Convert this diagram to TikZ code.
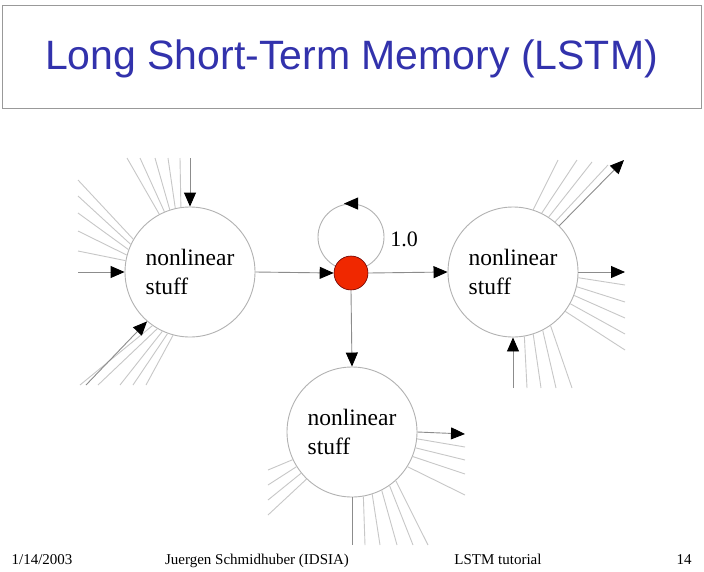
\documentclass[tikz,border=0pt]{standalone}
\usepackage{fontspec}
\setmainfont{Liberation Serif}
\newfontfamily\titlefont{Liberation Sans}
\usetikzlibrary{arrows.meta}
\definecolor{titleblue}{HTML}{3232AC}
\definecolor{nodered}{HTML}{F02800}
\tikzset{
  bignode/.style={circle, draw=black!30, line width=0.9pt, minimum size=130pt, inner sep=0pt,
    align=left, font=\fontsize{23.5}{29}\selectfont},
  conn/.style={draw=black!45, line width=0.9pt},
  tipped/.style={conn, -{Triangle[length=14pt,width=12pt,color=black]}},
  fan/.style={draw=black!22, line width=0.9pt},
  foot/.style={font=\fontsize{15}{17}\selectfont, anchor=base}
}
\begin{document}
\begin{tikzpicture}[x=1pt,y=-1pt]
\useasboundingbox (0,0) rectangle (704,571);
\fill[white] (0,0) rectangle (704,571);
% title
\node[draw=black!40, line width=1pt, minimum width=699pt, minimum height=103pt, inner sep=0pt] (titlebox) at (351.5,56.5) {};
\node[font=\titlefont\fontsize{41}{45}\selectfont, text=titleblue] (title) at (351.5,59) {Long Short-Term Memory (LSTM)};

% nodes
\node[bignode] (L) at (190,272) {nonlinear\\stuff};
\node[bignode] (R) at (513,272) {nonlinear\\stuff};
\node[bignode] (B) at (352,432) {nonlinear\\stuff};
\node[circle, draw=black!30, line width=0.9pt, minimum size=66pt, inner sep=0pt] (K) at (351,237) {};
\node[circle, fill=nodered, draw=black!60!red, line width=0.6pt, minimum size=34pt, inner sep=0pt] (C) at (351,273) {};
\node[font=\fontsize{22}{26}\selectfont] (w) at (404,239) {1.0};

% self loop arrowhead
\draw[tipped] ([xshift=6pt]K.north) -- ([xshift=-7pt]K.north);

% main connectors
\draw[tipped] (L.east) -- (C.west);
\draw[tipped] (C.east) -- (R.west);
\draw[tipped] (C.south) -- (B.north);

% left node extra inputs
\coordinate (Lt) at (190,158);
\coordinate (Ll) at (78,272);
\coordinate (Lb) at (86,385);
\foreach \x/\a [count=\i] in {127/118,140/113,155/108,168/103,180/98}{
  \coordinate (ltf\i) at (\x,158);
  \draw[fan] (ltf\i) -- (L.\a);
}
\foreach \y/\a [count=\i] in {180/150,196/155,213/160,231/165,251/170}{
  \coordinate (llf\i) at (78,\y);
  \draw[fan] (llf\i) -- (L.\a);
}
\foreach \x/\a [count=\i] in {80/235,98/240,120/245,133/250,146/255}{
  \coordinate (lbf\i) at (\x,385);
  \draw[fan] (lbf\i) -- (L.\a);
}
\draw[tipped] (Lt) -- (L.north);
\draw[tipped] (Ll) -- (L.west);
\draw[tipped] (Lb) -- (L.229);

% right node
\coordinate (Rt) at (624,160);
\coordinate (Rr) at (625,272);
\coordinate (Rb) at (513,388);
\foreach \x/\y/\a [count=\i] in {558/160/72,577/160/64,592/162/57,608/165/50}{
  \coordinate (rtf\i) at (\x,\y);
  \draw[fan] (R.\a) -- (rtf\i);
}
\foreach \y/\a [count=\i] in {285/-5,302/-13,318/-21,334/-29,350/-37}{
  \coordinate (rrf\i) at (625,\y);
  \draw[fan] (R.\a) -- (rrf\i);
}
\foreach \x/\a [count=\i] in {527/-80,541/-72,556/-63,572/-55}{
  \coordinate (rbf\i) at (\x,388);
  \draw[fan] (R.\a) -- (rbf\i);
}
\draw[tipped] (R.45) -- (Rt);
\draw[tipped] (R.east) -- (Rr);
\draw[tipped] (Rb) -- (R.south);

% bottom node
\coordinate (Br) at (465,434);
\coordinate (Bb) at (352,545);
\foreach \y/\a [count=\i] in {447/-6,460/-14,474/-22,495/-32}{
  \coordinate (brf\i) at (465,\y);
  \draw[fan] (B.\a) -- (brf\i);
}
\foreach \x/\a [count=\i] in {365/-80,380/-72,397/-63,413/-55,428/-48}{
  \coordinate (bbf\i) at (\x,545);
  \draw[fan] (B.\a) -- (bbf\i);
}
\foreach \y/\a [count=\i] in {470/205,485/212,500/219,515/226}{
  \coordinate (blf\i) at (268,\y);
  \draw[fan] (B.\a) -- (blf\i);
}
\draw[conn] (B.south) -- (Bb);
\draw[tipped] (B.east) -- (Br);

% footer
\node[foot] (f1) at (42,564) {1/14/2003};
\node[foot] (f2) at (257,564) {Juergen Schmidhuber (IDSIA)};
\node[foot] (f3) at (498,564) {LSTM tutorial};
\node[foot] (f4) at (684,564) {14};
\end{tikzpicture}
\end{document}
